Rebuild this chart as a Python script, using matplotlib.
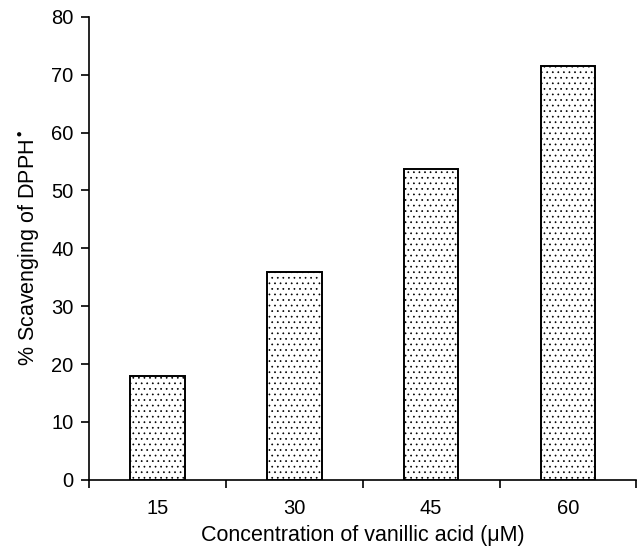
import numpy as np
import matplotlib.pyplot as plt

plt.rcParams['font.family'] = ['Liberation Sans', 'DejaVu Sans']
plt.rcParams['hatch.linewidth'] = 0.5
plt.rcParams['hatch.color'] = '#333333'

concentrations = ['15', '30', '45', '60']
scavenging = [18.0, 35.9, 53.7, 71.6]

fig = plt.figure(figsize=(6.38, 5.49), dpi=100)
ax = fig.add_axes([0.1395, 0.1262, 0.858, 0.843])

x = np.arange(len(concentrations))
ax.bar(x, scavenging, width=0.4, color='white', edgecolor='black',
       linewidth=1.4, hatch='...')

ax.set_xlim(-0.5, len(concentrations) - 0.5)
ax.set_ylim(0, 80)
ax.set_yticks(np.arange(0, 81, 10))
ax.set_xticks(x)
ax.set_xticklabels(concentrations)
ax.set_xticks(np.arange(-0.5, len(concentrations), 1), minor=True)
ax.tick_params(axis='x', which='major', length=0, pad=14, labelsize=14.5)
ax.tick_params(axis='x', which='minor', length=6, width=1.2, direction='out')
ax.tick_params(axis='y', length=6, width=1.2, direction='out', labelsize=14.5, pad=5)

for s in ['top', 'right']:
    ax.spines[s].set_visible(False)
for s in ['left', 'bottom']:
    ax.spines[s].set_linewidth(1.2)

ax.set_xlabel('Concentration of vanillic acid (\u03bcM)', fontsize=15.5, labelpad=5)
ax.set_ylabel('% Scavenging of DPPH$^{\\bullet}$', fontsize=15.5, labelpad=7)

plt.savefig('out.png', dpi=100)
